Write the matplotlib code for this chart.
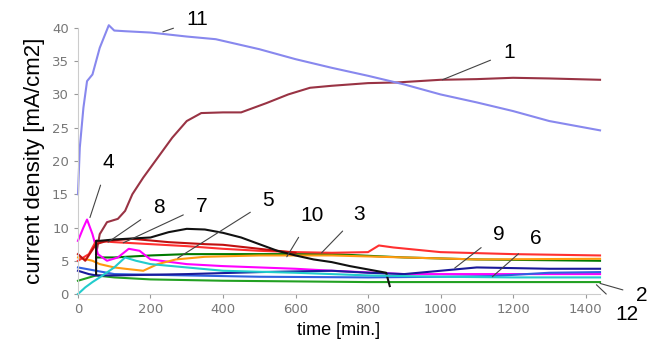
import matplotlib
matplotlib.use("Agg")
import matplotlib.pyplot as plt

# current density curves (t in min, j in mA/cm2)
t1 = [50, 60, 80, 110, 130, 150, 180, 220, 260, 300, 340, 400, 450, 520, 580, 640, 700, 800, 880, 1000, 1100, 1200, 1300, 1440]
j1 = [6, 9, 10.8, 11.3, 12.5, 15, 17.5, 20.5, 23.5, 26, 27.2, 27.3, 27.3, 28.7, 30, 31, 31.3, 31.7, 31.8, 32.2, 32.3, 32.5, 32.4, 32.2]

t2 = [0, 50, 100, 200, 400, 800, 1200, 1440]
j2 = [2.0, 2.8, 2.5, 2.2, 2.0, 1.8, 1.8, 1.8]

t3 = [50, 100, 200, 300, 500, 700, 900, 1100, 1440]
j3 = [5.5, 5.5, 5.8, 6.0, 6.0, 6.0, 5.5, 5.2, 5.0]

t4 = [0, 15, 25, 40, 55, 80, 110, 140, 170, 200, 300, 400, 500, 600, 700, 900, 1100, 1440]
j4 = [8, 10, 11.2, 9, 6, 5, 5.5, 6.8, 6.5, 5.2, 4.5, 4.2, 4.0, 3.8, 3.5, 3.0, 3.0, 3.0]

t5 = [0, 40, 60, 100, 130, 180, 220, 270, 350, 500, 700, 900, 1100, 1440]
j5 = [5.5, 5.0, 4.5, 4.0, 3.8, 3.5, 4.5, 5.2, 5.6, 5.8, 5.8, 5.5, 5.2, 5.3]

t6 = [0, 50, 100, 300, 500, 800, 1000, 1143, 1300, 1440]
j6 = [4.0, 3.5, 3.0, 2.8, 2.6, 2.5, 2.6, 2.7, 3.2, 3.3]

t7 = [0, 30, 50, 100, 200, 300, 400, 500, 600, 700, 800, 830, 870, 1000, 1200, 1440]
j7 = [5, 6, 8, 7.8, 7.5, 7.2, 6.8, 6.5, 6.3, 6.2, 6.3, 7.3, 7.0, 6.3, 6.0, 5.8]

t8 = [0, 20, 50, 80, 150, 250, 350, 400, 500, 600]
j8 = [6, 5, 7.5, 8, 8.3, 7.8, 7.5, 7.4, 6.8, 6.2]

t9 = [0, 30, 50, 100, 300, 500, 700, 800, 900, 1000, 1100, 1300, 1440]
j9 = [3.5, 3.0, 2.8, 2.8, 3.0, 3.3, 3.5, 3.2, 3.0, 3.5, 4.0, 3.8, 3.8]

t10 = [50, 50, 60, 100, 200, 250, 300, 350, 400, 450, 500, 550, 600, 650, 700, 750, 800, 850, 860]
j10 = [3, 8, 8, 8.2, 8.5, 9.3, 9.8, 9.7, 9.2, 8.5, 7.5, 6.5, 5.8, 5.2, 4.8, 4.2, 3.7, 3.2, 1.2]

t11 = [0, 5, 15, 25, 40, 60, 85, 100, 130, 200, 300, 380, 500, 600, 700, 800, 900, 1000, 1100, 1200, 1300, 1440]
j11 = [15, 22, 28, 32, 33, 37, 40.4, 39.6, 39.5, 39.3, 38.7, 38.3, 36.8, 35.3, 34, 32.8, 31.5, 30, 28.8, 27.5, 26, 24.6]

t12 = [0, 20, 40, 60, 100, 130, 160, 200, 300, 400, 600, 800, 1000, 1200, 1440]
j12 = [0, 1, 1.8, 2.5, 4, 5.5, 5, 4.5, 4, 3.5, 3.2, 2.8, 2.6, 2.5, 2.5]

series = [
    ("1", t1, j1, "#993344"),
    ("2", t2, j2, "#22a022"),
    ("3", t3, j3, "#007a00"),
    ("4", t4, j4, "#ff00ff"),
    ("5", t5, j5, "#ff9a10"),
    ("6", t6, j6, "#3060e0"),
    ("7", t7, j7, "#ff3030"),
    ("8", t8, j8, "#c01010"),
    ("9", t9, j9, "#1a1a9a"),
    ("10", t10, j10, "#111111"),
    ("11", t11, j11, "#8888ee"),
    ("12", t12, j12, "#22cccc"),
]

# label text position and the point its leader line runs to
labels = {
    "1": ((1190, 36.3), (1005, 32.2)),
    "2": ((1556, -0.2), (1440, 1.6)),
    "3": ((775, 12.0), (672, 6.2)),
    "4": ((83, 19.8), (33, 11.5)),
    "5": ((525, 14.0), (275, 5.4)),
    "6": ((1262, 8.3), (1143, 2.6)),
    "7": ((342, 13.2), (125, 7.7)),
    "8": ((222, 13.0), (83, 7.8)),
    "9": ((1160, 9.0), (1039, 3.9)),
    "10": ((645, 11.8), (576, 5.6)),
    "11": ((330, 41.2), (234, 39.4)),
    "12": ((1515, -3.0), (1430, 1.4)),
}

fig = plt.figure(figsize=(6.52, 3.53), dpi=100)
ax = fig.add_axes([0.1196, 0.167, 0.8007, 0.754])
plt.rcParams["font.family"] = ["Liberation Sans", "DejaVu Sans"]

for name, t, j, c in series:
    ax.plot(t, j, color=c, lw=1.5, clip_on=False)

for name, (txt, pt) in labels.items():
    ax.annotate(name, xy=pt, xytext=txt, fontsize=15, family="Liberation Sans",
                ha="center", va="center", annotation_clip=False,
                arrowprops=dict(arrowstyle="-", color="#444444", lw=0.8,
                                shrinkA=8, shrinkB=0))

ax.set_xlim(0, 1440)
ax.set_ylim(0, 40)
ax.set_xticks(range(0, 1401, 200))
ax.set_yticks(range(0, 41, 5))
ax.tick_params(colors="#999999", labelcolor="#777777", labelsize=9.5, length=3)
for s in ("top", "right"):
    ax.spines[s].set_visible(False)
for s in ("left", "bottom"):
    ax.spines[s].set_color("#cccccc")
ax.set_xlabel("time [min.]", fontsize=13, family="Liberation Sans", labelpad=4)
ax.set_ylabel("current density [mA/cm2]", fontsize=16, family="Liberation Sans", labelpad=5)

fig.savefig("out.png", dpi=100)
